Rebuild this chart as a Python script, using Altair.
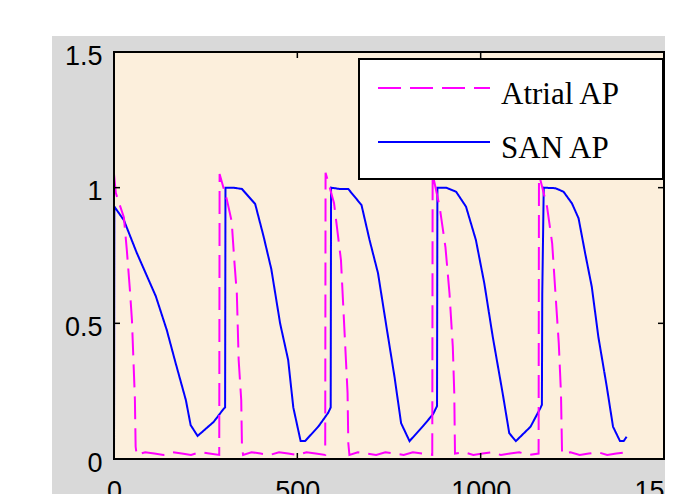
import altair as alt
import pandas as pd

series_names = ["Atrial AP", "SAN AP"]
series_colors = ["#ff00ff", "#0000ff"]
series_dashes = [[23, 9], [1, 0]]

# Atrial AP (ms, normalised)
atr_t = [0, 5, 27, 35, 43, 49, 57, 59, 62, 85, 110, 135, 160, 185, 210, 235, 260, 287,
         288, 308, 321, 328, 335, 340, 347, 349, 352, 375, 400, 425, 450, 475, 500, 525, 550, 576,
         577, 600, 619, 628, 637, 639, 642, 665, 690, 715, 740, 765, 790, 815, 840, 868,
         869, 888, 904, 915, 924, 928, 930, 955, 980, 1005, 1030, 1055, 1080, 1105, 1130, 1158,
         1159, 1181, 1195, 1204, 1213, 1219, 1222, 1245, 1270, 1295, 1320, 1345, 1370, 1398]
atr_v = [1.05, 0.98, 0.89, 0.77, 0.63, 0.51, 0.22, 0.045, 0.015, 0.025, 0.02, 0.015, 0.025, 0.02, 0.015, 0.025, 0.02, 0.015,
         1.05, 0.955, 0.875, 0.733, 0.61, 0.365, 0.217, 0.045, 0.015, 0.025, 0.02, 0.015, 0.025, 0.02, 0.015, 0.025, 0.02, 0.015,
         1.055, 0.944, 0.733, 0.488, 0.243, 0.059, 0.015, 0.025, 0.02, 0.015, 0.025, 0.02, 0.015, 0.025, 0.02, 0.015,
         1.05, 0.93, 0.78, 0.61, 0.414, 0.243, 0.02, 0.025, 0.015, 0.02, 0.025, 0.015, 0.02, 0.025, 0.015, 0.02,
         1.05, 0.93, 0.795, 0.61, 0.427, 0.243, 0.02, 0.025, 0.015, 0.02, 0.025, 0.015, 0.02, 0.025]

# SAN AP
san_t = [0, 1, 27, 62, 114, 144, 168, 196, 209, 228, 272, 299, 303,
         304, 326, 349, 385, 408, 429, 453, 475, 489, 509, 521, 557, 584, 591,
         592, 616, 639, 675, 697, 720, 743, 765, 783, 806, 842, 870, 881,
         882, 906, 933, 960, 987, 1010, 1033, 1060, 1078, 1096, 1136, 1163, 1167, 1168,
         1172, 1204, 1226, 1249, 1267, 1285, 1303, 1321, 1344, 1361, 1380, 1390, 1398]
san_v = [0.0, 0.93, 0.88, 0.76, 0.60, 0.475, 0.354, 0.217, 0.125, 0.085, 0.137, 0.185, 0.19,
         1.0, 1.0, 0.995, 0.94, 0.82, 0.70, 0.50, 0.365, 0.19, 0.066, 0.066, 0.119, 0.17, 0.19,
         1.0, 0.995, 0.995, 0.936, 0.807, 0.685, 0.488, 0.303, 0.132, 0.066, 0.12, 0.165, 0.195,
         1.0, 1.0, 0.985, 0.93, 0.807, 0.647, 0.45, 0.242, 0.095, 0.066, 0.119, 0.188, 0.2, 0.61,
         1.0, 0.998, 0.985, 0.942, 0.887, 0.758, 0.635, 0.45, 0.266, 0.119, 0.066, 0.066, 0.082]

x_ticks = [0, 500, 1000, 1500]
y_ticks = [0, 0.5, 1, 1.5]

W, H = 550, 407
TICK = 6

df_atr = pd.DataFrame({"t": atr_t, "v": atr_v, "series": series_names[0], "i": range(len(atr_t))})
df_san = pd.DataFrame({"t": san_t, "v": san_v, "series": series_names[1], "i": range(len(san_t))})

x_scale = alt.Scale(domain=[x_ticks[0], x_ticks[-1]], nice=False, zero=False)
y_scale = alt.Scale(domain=[y_ticks[0], y_ticks[-1]], nice=False, zero=False)

axis_common = dict(ticks=False, domain=False, grid=False, title=None, zindex=1,
                   labelFont="Liberation Sans", labelFontSize=27, labelColor="black",
                   labelFlush=False, labelOverlap=False)


def make_legend(ly):
    return alt.Legend(
        title=None, orient="none", legendX=263, legendY=ly,
        symbolType="M-1,-0.125L1,-0.125", symbolSize=12544, symbolStrokeWidth=2,
        labelFont="Liberation Serif", labelFontSize=31, labelColor="black",
        labelOffset=10, padding=0,
    )


def series_layer(d, k, ly):
    lg = make_legend(ly)
    return alt.Chart(d).mark_line(strokeWidth=2).encode(
        x=alt.X("t:Q", scale=x_scale,
                axis=alt.Axis(values=x_ticks, format="d", labelPadding=19, **axis_common)),
        y=alt.Y("v:Q", scale=y_scale,
                axis=alt.Axis(values=y_ticks, format="~g", labelPadding=12, labelOffset=4, **axis_common)),
        color=alt.Color("series:N", scale=alt.Scale(domain=[series_names[k]], range=[series_colors[k]]), legend=lg),
        strokeDash=alt.StrokeDash("series:N", scale=alt.Scale(domain=[series_names[k]], range=[series_dashes[k]]), legend=lg),
        order="i:Q",
    )


san_line = series_layer(df_san, 1, 40)
atr_line = series_layer(df_atr, 0, -14)

gray = alt.Chart(pd.DataFrame({"k": [0]})).mark_rect(color="#d9d9d9").encode(
    x=alt.value(-62), x2=alt.value(W + 60), y=alt.value(-16), y2=alt.value(H + 60)
)

frame_df = pd.DataFrame({"x0": [x_ticks[0]], "x1": [x_ticks[-1]],
                         "y0": [y_ticks[0]], "y1": [y_ticks[-1]]})
beige = alt.Chart(frame_df).mark_rect(color="#fcefdc").encode(
    x=alt.X("x0:Q", scale=x_scale), x2="x1",
    y=alt.Y("y0:Q", scale=y_scale), y2="y1",
)
frame = alt.Chart(frame_df).mark_rect(filled=False, stroke="black", strokeWidth=2).encode(
    x=alt.X("x0:Q", scale=x_scale), x2="x1",
    y=alt.Y("y0:Q", scale=y_scale), y2="y1",
)

xt = pd.DataFrame({"xt": x_ticks})
yt = pd.DataFrame({"yt": y_ticks})
tick_b = alt.Chart(xt).mark_rule(color="black", strokeWidth=1.5).encode(
    x=alt.X("xt:Q", scale=x_scale), y=alt.value(H), y2=alt.value(H - TICK))
tick_t = alt.Chart(xt).mark_rule(color="black", strokeWidth=1.5).encode(
    x=alt.X("xt:Q", scale=x_scale), y=alt.value(0), y2=alt.value(TICK))
tick_l = alt.Chart(yt).mark_rule(color="black", strokeWidth=1.5).encode(
    y=alt.Y("yt:Q", scale=y_scale), x=alt.value(0), x2=alt.value(TICK))
tick_r = alt.Chart(yt).mark_rule(color="black", strokeWidth=1.5).encode(
    y=alt.Y("yt:Q", scale=y_scale), x=alt.value(W), x2=alt.value(W - TICK))

# legend box (white panel with black border)
legend_box = alt.Chart(pd.DataFrame({"k": [0]})).mark_rect(
    fill="white", stroke="black", strokeWidth=2
).encode(x=alt.value(245), x2=alt.value(W - 1), y=alt.value(7), y2=alt.value(127))

chart = alt.layer(
    gray, beige, san_line, atr_line, frame, tick_b, tick_t, tick_l, tick_r, legend_box
).resolve_scale(
    color="independent", strokeDash="independent"
).resolve_legend(
    color="independent", strokeDash="independent"
).properties(
    width=W, height=H, autosize="none",
    padding={"left": 106, "top": 44, "right": 1, "bottom": 35},
    background="white",
).configure_view(stroke=None)

chart.save("out.html", embed_options={"renderer": "svg", "actions": False})
